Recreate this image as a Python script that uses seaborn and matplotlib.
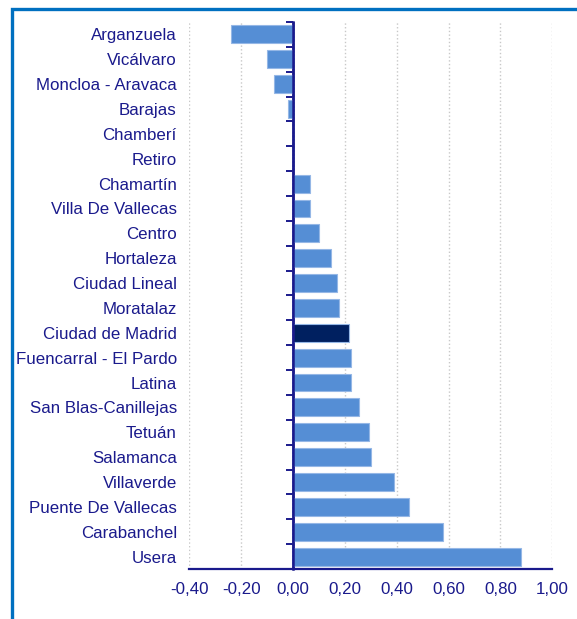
import matplotlib
matplotlib.use('Agg')
import matplotlib.pyplot as plt
import seaborn as sns
import pandas as pd
from matplotlib.patches import Rectangle

distritos = ['Arganzuela', 'Vicálvaro', 'Moncloa - Aravaca', 'Barajas', 'Chamberí', 'Retiro',
             'Chamartín', 'Villa De Vallecas', 'Centro', 'Hortaleza', 'Ciudad Lineal', 'Moratalaz',
             'Ciudad de Madrid', 'Fuencarral - El Pardo', 'Latina', 'San Blas-Canillejas', 'Tetuán',
             'Salamanca', 'Villaverde', 'Puente De Vallecas', 'Carabanchel', 'Usera']
valores = [-0.238, -0.101, -0.072, -0.018, 0.0, 0.0,
           0.064, 0.066, 0.100, 0.147, 0.170, 0.177,
           0.216, 0.222, 0.224, 0.253, 0.293,
           0.301, 0.391, 0.446, 0.578, 0.879]
x_ticks = [-0.4, -0.2, 0.0, 0.2, 0.4, 0.6, 0.8, 1.0]
x_labels = ['-0,40', '-0,20', '0,00', '0,20', '0,40', '0,60', '0,80', '1,00']

navy = '#1a1a8c'
azul = '#558ed5'
oscuro = '#002060'

df = pd.DataFrame({'distrito': distritos, 'valor': valores})
paleta = {d: (oscuro if d == 'Ciudad de Madrid' else azul) for d in distritos}

sns.set_style('white')
plt.rcParams['font.family'] = ['Liberation Sans', 'DejaVu Sans']

fig = plt.figure(figsize=(5.77, 6.19), dpi=100)
ax = fig.add_axes([189.3 / 577, 1 - 569 / 619, (552.3 - 189.3) / 577, (569 - 22) / 619])

sns.barplot(data=df, x='valor', y='distrito', hue='distrito', palette=paleta, legend=False,
            saturation=1, width=0.72, edgecolor='#95b7e6', linewidth=0.8, ax=ax)

ax.set_xlim(-0.4, 1.0)
ax.set_ylim(len(distritos) - 0.5, -0.5)
ax.set_xticks(x_ticks)
ax.set_xticklabels(x_labels)
ax.set_xlabel('')
ax.set_ylabel('')
ax.grid(axis='x', color='#c8c8c8', linestyle=':', linewidth=1)
ax.set_axisbelow(True)

for s in ['top', 'right', 'left']:
    ax.spines[s].set_visible(False)
ax.spines['bottom'].set_color(navy)
ax.spines['bottom'].set_linewidth(1.6)

ax.tick_params(axis='x', direction='out', length=5, width=1.4, color=navy,
               labelcolor=navy, labelsize=12.2, pad=4)
ax.tick_params(axis='y', length=0, labelcolor=navy, labelsize=12.2, pad=9)

# eje vertical en el cero con marcas entre categorías
ax.axvline(0, color=navy, linewidth=1.8, zorder=5)
sec = ax.secondary_yaxis(0.4 / 1.4)
sec.set_yticks([i - 0.5 for i in range(len(distritos) + 1)])
sec.set_yticklabels([])
for s in sec.spines.values():
    s.set_color(navy)
    s.set_linewidth(1.8)
sec.tick_params(axis='y', direction='out', length=5, width=1.4, color=navy)

# marco azul
fig.patches.append(Rectangle((12 / 577, -0.1), 1.2, 1 - 8.5 / 619 + 0.1, transform=fig.transFigure,
                             fill=False, edgecolor='#0070c0', linewidth=2.4, clip_on=False))

fig.savefig('out.png', dpi=100)
